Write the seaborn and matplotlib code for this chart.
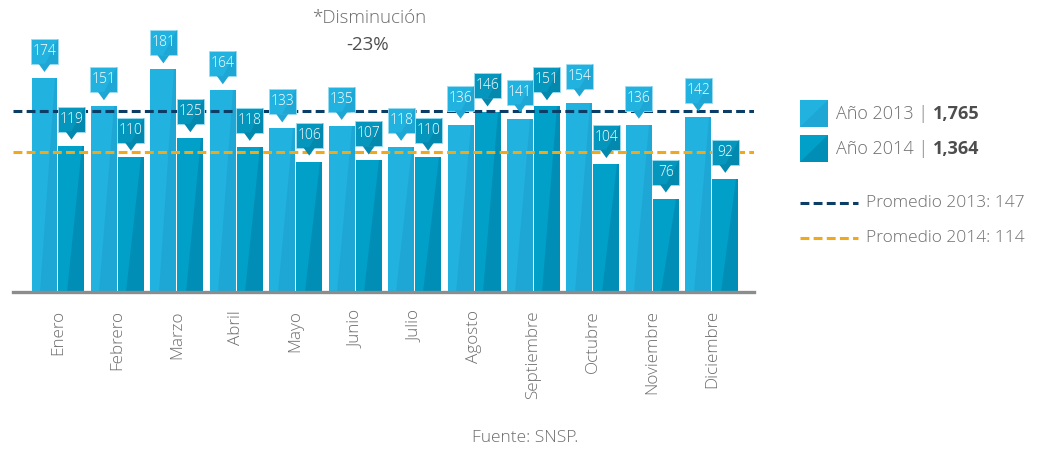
import matplotlib
matplotlib.use("Agg")
import matplotlib.pyplot as plt
import pandas as pd
import seaborn as sns
from matplotlib.patches import Polygon, Rectangle
from matplotlib.lines import Line2D

# ---- data -------------------------------------------------------------
meses = ["Enero", "Febrero", "Marzo", "Abril", "Mayo", "Junio", "Julio",
         "Agosto", "Septiembre", "Octubre", "Noviembre", "Diciembre"]
valores_2013 = [174, 151, 181, 164, 133, 135, 118, 136, 141, 154, 136, 142]
valores_2014 = [119, 110, 125, 118, 106, 107, 110, 146, 151, 104, 76, 92]
series = ["Año 2013", "Año 2014"]
totales = ["1,765", "1,364"]
promedios = [147, 114]
promedio_labels = ["Promedio 2013: 147", "Promedio 2014: 114"]
titulo = "*Disminución"
variacion = "-23%"
fuente = "Fuente: SNSP."

# ---- styling ----------------------------------------------------------
col_main = ["#22b2df", "#00a0c8"]
col_shade = ["#1ea7d5", "#018eb6"]
col_box = ["#22b2df", "#0596be"]
col_box_shade = ["#1ea7d5", "#0388ae"]
col_avg = ["#0c3d66", "#f0a81c"]
txt_col = "#6e6e6e"

sns.set_theme(style="white")
plt.rcParams["font.family"] = ["Open Sans", "DejaVu Sans"]

W, H = 1037, 450
fig = plt.figure(figsize=(W / 100, H / 100), dpi=100)
ax = fig.add_axes([13 / W, 1 - 292 / H, (754 - 13) / W, (292 - 5) / H])

df = pd.DataFrame({
    "mes": meses * 2,
    "valor": valores_2013 + valores_2014,
    "serie": [series[0]] * len(meses) + [series[1]] * len(meses),
})

sns.barplot(data=df, x="mes", y="valor", hue="serie", order=meses,
            hue_order=series, palette=col_main, width=0.908, gap=0.037,
            legend=False, ax=ax, saturation=1, linewidth=0, errorbar=None)

ax.set_xlim(-0.757, 11.71)
ymax = 287 / 1.23
ax.set_ylim(0, ymax)
px = ymax / 287.0  # data units per pixel (vertical)
pxx = 1 / 59.45    # data units per pixel (horizontal)

# diagonal shading on bars and value callouts
for k, cont in enumerate(ax.containers):
    for rect in cont:
        x, w, h = rect.get_x(), rect.get_width(), rect.get_height()
        ax.add_patch(Polygon([(x + 0.32 * w, 0), (x + w, 0), (x + w, h),
                              (x + 0.9 * w, h)], closed=True,
                             facecolor=col_shade[k], edgecolor="none",
                             zorder=rect.get_zorder() + 0.1))
        b0 = h + 14 * px
        bh = 25 * px
        ax.add_patch(Rectangle((x - 0.5 * pxx, b0), w + pxx, bh,
                               facecolor=col_box[k], edgecolor="#9adcf2",
                               linewidth=0.6, zorder=5))
        ax.add_patch(Polygon([(x + 0.5 * w, b0), (x + w + 0.5 * pxx, b0),
                              (x + w + 0.5 * pxx, b0 + bh)], closed=True,
                             facecolor=col_box_shade[k], edgecolor="none",
                             zorder=5.1))
        cx = x + w / 2
        ax.add_patch(Polygon([(cx - 6 * pxx, b0 + 0.3 * px),
                              (cx + 6 * pxx, b0 + 0.3 * px),
                              (cx, h + 6 * px)], closed=True,
                             facecolor=col_box_shade[k], edgecolor="none",
                             zorder=5))
        ax.text(cx, b0 + bh / 2, f"{int(round(h))}", ha="center",
                va="center", color="white", fontsize=10,
                fontweight="light", zorder=6)

# average lines
for k, v in enumerate(promedios):
    ax.axhline(v, color=col_avg[k], linewidth=2.2, dashes=(2.9, 1.4),
               zorder=4)

# axes cosmetics
for s in ["top", "right", "left"]:
    ax.spines[s].set_visible(False)
ax.spines["bottom"].set_color("#8c8c8c")
ax.spines["bottom"].set_linewidth(2.4)
ax.set_yticks([])
ax.set_xlabel("")
ax.set_ylabel("")
ax.tick_params(axis="x", length=0, pad=13)
for lab in ax.get_xticklabels():
    lab.set_rotation(90)
    lab.set_fontsize(12.3)
    lab.set_color(txt_col)
    lab.set_fontweight("light")
    lab.set_va("top")
    lab.set_ha("center")


def fx(x):
    return x / W


def fy(y):
    return 1 - y / H


# title annotation
fig.text(fx(369), fy(18), titulo, ha="center", va="center", fontsize=13.5,
         color=txt_col, fontweight="light")
fig.text(fx(368), fy(45), variacion, ha="center", va="center", fontsize=13.5,
         color="#4f4f4f", fontweight="normal")

# legend: series swatches
sq_top = [100, 135]
renderer = fig.canvas.get_renderer()
for k in range(2):
    y0 = sq_top[k]
    fig.patches.append(Rectangle((fx(800), fy(y0 + 27)), 28 / W, 27 / H,
                                 transform=fig.transFigure,
                                 facecolor=col_main[k], edgecolor="none"))
    fig.patches.append(Polygon([(fx(800), fy(y0 + 27)), (fx(828), fy(y0 + 27)),
                                (fx(828), fy(y0))], closed=True,
                               transform=fig.transFigure,
                               facecolor=col_shade[k], edgecolor="none"))
    t1 = fig.text(fx(836), fy(y0 + 14), series[k] + " | ", ha="left",
                  va="center", fontsize=13, color=txt_col, fontweight="light")
    bb = t1.get_window_extent(renderer=renderer)
    fig.text(bb.x1 / W, fy(y0 + 14), totales[k], ha="left", va="center",
             fontsize=13, color="#4d4d4d", fontweight="bold")

# legend: average lines
for k, yy in enumerate([203, 238]):
    fig.lines.append(Line2D([fx(800), fx(858)], [fy(yy), fy(yy)],
                            transform=fig.transFigure, color=col_avg[k],
                            linewidth=2.2, dashes=(2.9, 1.4)))
    fig.text(fx(866), fy(yy), promedio_labels[k], ha="left", va="center",
             fontsize=12.5, color=txt_col, fontweight="light")

fig.text(fx(525), fy(438), fuente, ha="center", va="center", fontsize=12.5,
         color=txt_col, fontweight="light")

fig.savefig("out.png", dpi=100)
